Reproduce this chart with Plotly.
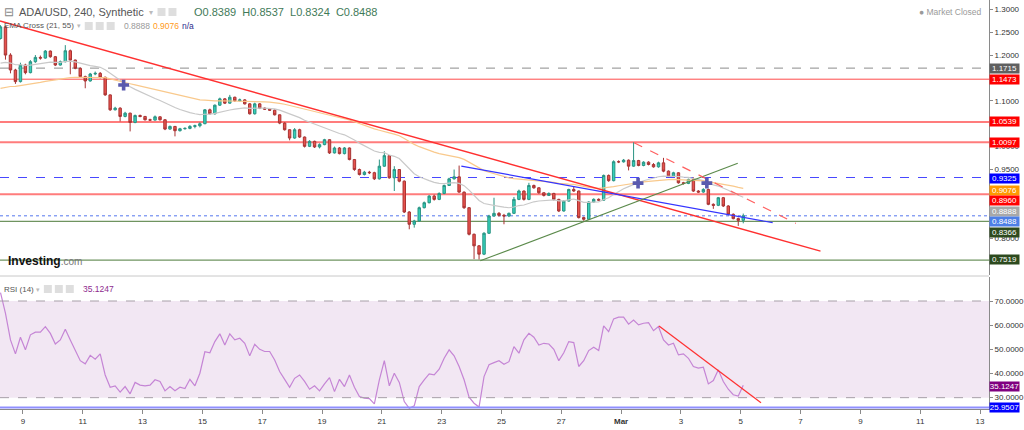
import pandas as pd
import plotly.graph_objects as go

# ---- data (ADA/USD, 4h candles) ----
first_open = 1.2362
closes = [
    1.2616, 1.2000, 1.1674, 1.1420, 1.1782, 1.1616, 1.1855, 1.1949, 1.1934, 1.2087,
    1.1964, 1.1782, 1.1855, 1.2094, 1.1891, 1.1710, 1.1529, 1.1434, 1.1587, 1.1601,
    1.1514, 1.1130, 1.0804, 1.0840, 1.0659, 1.0731, 1.0528, 1.0680, 1.0659, 1.0586,
    1.0579, 1.0651, 1.0586, 1.0383, 1.0441, 1.0347, 1.0390, 1.0398, 1.0441, 1.0456,
    1.0500, 1.0804, 1.0717, 1.0905, 1.1043, 1.0949, 1.1079, 1.1000, 1.1021, 1.0934,
    1.0717, 1.0934, 1.0840, 1.0818, 1.0796, 1.0695, 1.0514, 1.0369, 1.0187, 1.0369,
    1.0209, 1.0006, 1.0115, 0.9992, 1.0043, 1.0151, 0.9862, 0.9970, 0.9847, 0.9970,
    0.9717, 0.9499, 0.9390, 0.9441, 0.9430, 0.9296, 0.9572, 0.9803, 0.9318, 0.9499,
    0.9245, 0.8571, 0.8303, 0.8375, 0.8665, 0.8774, 0.8919, 0.8847, 0.8977, 0.9151,
    0.9296, 0.9340, 0.9006, 0.8665, 0.8085, 0.7832, 0.7650, 0.8107, 0.8484, 0.8542,
    0.8499, 0.8484, 0.8542, 0.8847, 0.9030, 0.8847, 0.9151, 0.9100, 0.8992, 0.8934,
    0.8977, 0.8847, 0.8593, 0.8810, 0.9064, 0.9030, 0.8449, 0.8413, 0.8790, 0.8848,
    0.8830, 0.9370, 0.9256, 0.9670, 0.9667, 0.9703, 0.9573, 0.9696, 0.9587, 0.9660,
    0.9609, 0.9558, 0.9645, 0.9464, 0.9355, 0.9428, 0.9210, 0.9196, 0.9283, 0.9029,
    0.9007, 0.9065, 0.8739, 0.8717, 0.8884, 0.8703, 0.8521, 0.8427, 0.8389, 0.8488,
]
highs = [
    1.2652, 1.2630, 1.2040, 1.1700, 1.1833, 1.1810, 1.1890, 1.2000, 1.1990, 1.2110,
    1.2100, 1.1980, 1.1880, 1.2217, 1.2120, 1.1900, 1.1730, 1.1550, 1.1610, 1.1640,
    1.1630, 1.1530, 1.1140, 1.0870, 1.0860, 1.0760, 1.0740, 1.0700, 1.0700, 1.0670,
    1.0610, 1.0680, 1.0660, 1.0600, 1.0460, 1.0450, 1.0410, 1.0420, 1.0470, 1.0480,
    1.0530, 1.0820, 1.0830, 1.0920, 1.1070, 1.1060, 1.1130, 1.1090, 1.1050, 1.1040,
    1.0950, 1.0960, 1.0950, 1.0860, 1.0840, 1.0810, 1.0700, 1.0530, 1.0380, 1.0405,
    1.0390, 1.0220, 1.0140, 1.0130, 1.0070, 1.0170, 1.0160, 1.0000, 0.9990, 0.9990,
    0.9980, 0.9730, 0.9520, 0.9470, 0.9470, 0.9450, 0.9717, 0.9898, 0.9810, 0.9572,
    0.9510, 0.9260, 0.8590, 0.8400, 0.8690, 0.8800, 0.8940, 0.8950, 0.9000, 0.9170,
    0.9320, 0.9499, 0.9586, 0.9020, 0.8680, 0.8100, 0.7850, 0.8130, 0.8510, 0.8883,
    0.8570, 0.8530, 0.8560, 0.8900, 0.9060, 0.9040, 0.9209, 0.9170, 0.9110, 0.9000,
    0.9000, 0.8990, 0.8860, 0.8830, 0.9080, 0.9137, 0.9040, 0.8470, 0.8810, 0.8870,
    0.8870, 0.9390, 0.9391, 0.9700, 0.9700, 0.9730, 0.9720, 1.0094, 0.9710, 0.9680,
    0.9680, 0.9640, 0.9670, 0.9754, 0.9480, 0.9450, 0.9440, 0.9230, 0.9300, 0.9330,
    0.9050, 0.9090, 0.9080, 0.8760, 0.8900, 0.8900, 0.8720, 0.8540, 0.8450, 0.8537,
]
lows = [
    1.2340, 1.1900, 1.1601, 1.1370, 1.1400, 1.1580, 1.1600, 1.1830, 1.1900, 1.1920,
    1.1940, 1.1760, 1.1770, 1.1840, 1.1580, 1.1690, 1.1500, 1.1275, 1.1420, 1.1560,
    1.1490, 1.1110, 1.0780, 1.0790, 1.0550, 1.0640, 1.0332, 1.0510, 1.0640, 1.0570,
    1.0560, 1.0570, 1.0570, 1.0360, 1.0370, 1.0224, 1.0330, 1.0370, 1.0380, 1.0400,
    1.0420, 1.0490, 1.0700, 1.0700, 1.0890, 1.0930, 1.0940, 1.0980, 1.0990, 1.0920,
    1.0700, 1.0700, 1.0820, 1.0800, 1.0780, 1.0680, 1.0490, 1.0350, 1.0137, 1.0170,
    1.0190, 0.9980, 0.9990, 0.9970, 0.9960, 1.0030, 0.9840, 0.9850, 0.9830, 0.9830,
    0.9700, 0.9470, 0.9370, 0.9370, 0.9400, 0.9270, 0.9280, 0.9560, 0.9300, 0.9030,
    0.9220, 0.8550, 0.8194, 0.8230, 0.8360, 0.8650, 0.8760, 0.8820, 0.8830, 0.8960,
    0.9140, 0.9280, 0.8990, 0.8640, 0.8060, 0.7542, 0.7535, 0.7630, 0.8090, 0.8470,
    0.8470, 0.8303, 0.8460, 0.8530, 0.8830, 0.8820, 0.8830, 0.9080, 0.8970, 0.8910,
    0.8920, 0.8820, 0.8570, 0.8580, 0.8800, 0.9010, 0.8430, 0.8380, 0.8400, 0.8770,
    0.8810, 0.8820, 0.9230, 0.9240, 0.9640, 0.9650, 0.9480, 0.9560, 0.9570, 0.9570,
    0.9590, 0.9540, 0.9540, 0.9440, 0.9330, 0.9340, 0.9190, 0.9170, 0.9180, 0.9010,
    0.8990, 0.8990, 0.8720, 0.8640, 0.8700, 0.8680, 0.8500, 0.8410, 0.8268, 0.8324,
]
rsi = [
    73.5, 64.9, 53.9, 48.1, 55.0, 49.8, 56.0, 57.1, 57.1, 59.4,
    56.6, 52.2, 53.9, 58.3, 53.9, 49.5, 45.3, 44.0, 47.5, 45.9,
    48.1, 39.4, 34.3, 34.9, 32.3, 34.6, 31.6, 36.3, 35.2, 34.9,
    35.2, 37.4, 36.7, 32.8, 34.6, 32.9, 34.3, 33.8, 37.6, 34.9,
    40.1, 49.0, 48.6, 53.2, 56.4, 51.8, 56.4, 53.9, 54.6, 52.5,
    47.3, 52.1, 50.0, 49.1, 49.1, 45.6, 40.8, 37.6, 34.3, 38.0,
    39.4, 36.7, 33.5, 34.9, 32.8, 35.7, 38.3, 32.5, 37.6, 34.6,
    39.4, 34.3, 30.5, 29.8, 29.6, 27.4, 37.4, 45.3, 34.9, 40.1,
    36.3, 28.4, 25.6, 26.6, 34.6, 37.4, 39.8, 39.4, 41.8, 46.3,
    49.8, 47.3, 42.9, 37.4, 30.2, 27.7, 26.1, 38.7, 43.6, 44.5,
    45.3, 43.8, 44.9, 51.1, 48.4, 53.9, 56.6, 55.0, 51.8, 52.5,
    52.2, 50.0, 45.3, 48.6, 53.2, 52.8, 42.9, 45.3, 49.5, 50.9,
    49.5, 59.7, 57.3, 62.6, 63.3, 63.3, 60.4, 62.1, 60.1, 60.8,
    61.0, 57.7, 59.4, 53.9, 51.8, 52.5, 47.7, 48.1, 46.3, 42.9,
    42.2, 42.6, 35.7, 37.1, 41.5, 36.7, 33.5, 31.2, 30.7, 35.1247,
]
ema_fast_seed, ema_slow_seed = 1.1746, 1.1224
ema_fast_last, ema_slow_last = 0.8888, 0.9076
rsi_level = 25.9507

levels = [1.1715, 1.1473, 1.0539, 1.0097, 0.9325, 0.8960, 0.8488, 0.8366, 0.7519]

trend_red_t = ['2021-02-08 05:36', '2021-03-07 16:00']
trend_red_p = [1.2744, 0.7717]
trend_blue_t = ['2021-02-23 15:46', '2021-03-06 01:36']
trend_blue_p = [0.9575, 0.8338]
trend_green_t = ['2021-02-24 07:00', '2021-03-04 21:36']
trend_green_p = [0.7505, 0.9634]
trend_dash_t = ['2021-03-01 10:24', '2021-03-06 20:14']
trend_dash_p = [1.0084, 0.8322]
rsi_trend_t = ['2021-03-02 06:24', '2021-03-05 16:15']
rsi_trend_v = [59.66, 27.9]
cross_t = ['2021-02-12 08:48', '2021-03-01 13:36', '2021-03-03 20:48']
cross_p = [1.1345, 0.9203, 0.9203]

tick_dates = ['2021-02-09', '2021-02-11', '2021-02-13', '2021-02-15', '2021-02-17',
              '2021-02-19', '2021-02-21', '2021-02-23', '2021-02-25', '2021-02-27',
              '2021-03-01', '2021-03-03', '2021-03-05', '2021-03-07', '2021-03-09',
              '2021-03-11', '2021-03-13']
tick_text = ['9', '11', '13', '15', '17', '19', '21', '23', '25', '27',
             '<b>Mar</b>', '3', '5', '7', '9', '11', '13']
# price ticks that are not hidden behind the price tags
price_ticks = [0.80, 0.95, 1.00, 1.10, 1.20, 1.25, 1.30]
rsi_ticks = [30, 40, 50, 60, 70]

opens = [first_open] + closes[:-1]
times = pd.date_range('2021-02-08 06:00', periods=len(closes), freq='4h')


def ema(values, span, seed):
    a = 2 / (span + 1)
    e = seed
    out = []
    for v in values:
        e = e + a * (v - e)
        out.append(e)
    return out


ema_fast = ema(closes, 21, ema_fast_seed)
ema_slow = ema(closes, 55, ema_slow_seed)

# pixel helpers (plot area is 992 x 409 px)
W, H = 992, 409


def px(x):
    return x / W


def py(y):
    return (H - y) / H


FONT = 'Liberation Sans, Arial, sans-serif'

fig = go.Figure()

fig.add_trace(go.Scatter(x=times, y=ema_fast, mode='lines',
                         line=dict(color='#c9c9c9', width=1.2), showlegend=False))
fig.add_trace(go.Scatter(x=times, y=ema_slow, mode='lines',
                         line=dict(color='#f9c98c', width=1.2), showlegend=False))

fig.add_trace(go.Candlestick(
    x=times, open=opens, high=highs, low=lows, close=closes,
    increasing=dict(line=dict(color='#2a9383', width=1), fillcolor='#33d1ba'),
    decreasing=dict(line=dict(color='#a83434', width=1), fillcolor='#e8524c'),
    whiskerwidth=0, showlegend=False))

# trend lines
for t, p, col, dash, w in [
    (trend_red_t, trend_red_p, '#ff3030', 'solid', 1.4),
    (trend_blue_t, trend_blue_p, '#3535ff', 'solid', 1.2),
    (trend_green_t, trend_green_p, '#5b8a4b', 'solid', 1.1),
    (trend_dash_t, trend_dash_p, '#ff5f5f', 'dash', 1.2),
]:
    fig.add_trace(go.Scatter(x=t, y=p, mode='lines', line=dict(color=col, width=w, dash=dash),
                             showlegend=False))

fig.add_trace(go.Scatter(x=cross_t, y=cross_p, mode='markers',
                         marker=dict(symbol='cross', size=9, color='#5a5aae'),
                         showlegend=False))

# RSI panel
fig.add_trace(go.Scatter(x=times, y=rsi, mode='lines', yaxis='y2',
                         line=dict(color='#c585d5', width=1.2), showlegend=False))
fig.add_trace(go.Scatter(x=rsi_trend_t, y=rsi_trend_v, mode='lines', yaxis='y2',
                         line=dict(color='#ff3030', width=1.2), showlegend=False))

shapes = []
level_styles = [
    ('#8c8c8c', 1, 'dash'),
    ('#ff4a4a', 1, 'solid'),
    ('rgba(255,80,80,0.75)', 2, 'solid'),
    ('rgba(255,80,80,0.75)', 2, 'solid'),
    ('#4848ff', 1.2, 'dash'),
    ('rgba(255,80,80,0.75)', 2, 'solid'),
    ('#5577ee', 1, 'dot'),
    ('#6f9460', 1.2, 'solid'),
    ('#6f9460', 1.2, 'solid'),
]
for lv, (col, w, dash) in zip(levels, level_styles):
    shapes.append(dict(type='line', xref='x domain', x0=0, x1=1, yref='y', y0=lv, y1=lv,
                       line=dict(color=col, width=w, dash=dash), layer='below'))

shapes += [
    dict(type='rect', xref='x domain', x0=0, x1=1, yref='y2', y0=30, y1=70,
         fillcolor='rgba(150,60,160,0.12)', line=dict(width=0), layer='below'),
    dict(type='line', xref='x domain', x0=0, x1=1, yref='y2', y0=70, y1=70,
         line=dict(color='#a79fa8', width=1, dash='dash')),
    dict(type='line', xref='x domain', x0=0, x1=1, yref='y2', y0=30, y1=30,
         line=dict(color='#a79fa8', width=1, dash='dash')),
    dict(type='line', xref='x domain', x0=0, x1=1, yref='y2', y0=rsi_level, y1=rsi_level,
         line=dict(color='#8f8fff', width=2)),
    dict(type='line', xref='paper', x0=0, x1=1, yref='paper', y0=py(276), y1=py(276),
         line=dict(color='#c8c8c8', width=1)),
]
# little toolbar squares in the legends
for x0, y0 in [(158, 8), (169, 8), (85, 22), (96, 22), (107, 22), (44, 285), (55, 285), (66, 285)]:
    shapes.append(dict(type='rect', xref='paper', yref='paper', x0=px(x0), x1=px(x0 + 8),
                       y0=py(y0 + 8), y1=py(y0), fillcolor='#dedede', line=dict(width=0)))

ann = []


def label(x, y, text, size, color, anchor='left'):
    ann.append(dict(xref='paper', yref='paper', x=px(x), y=py(y), text=text, showarrow=False,
                    xanchor=anchor, yanchor='middle', font=dict(size=size, color=color)))


label(2, 12, '⊟', 12, '#888888')
label(17, 12, 'ADA/USD, 240, Synthetic', 11, '#555555')
label(147, 12, '▾', 8, '#bbbbbb')
label(193, 12, f'O{opens[-1]:.4f}  H{highs[-1]:.4f}  L{lows[-1]:.4f}  C{closes[-1]:.4f}', 11, '#3f7a58')
label(2, 26, 'EMA Cross (21, 55)', 8, '#555555')
label(75, 26, '▾', 7, '#bbbbbb')
label(122, 26, f'{ema_fast_last:.4f}', 8.5, '#9a9a9a')
label(151, 26, f'{ema_slow_last:.4f}', 8.5, '#ff9a1a')
label(181, 26, 'n/a', 8.5, '#2c2c8c')
label(2, 289, 'RSI (14)', 8, '#555555')
label(34, 289, '▾', 7, '#bbbbbb')
label(81, 289, f'{rsi[-1]:.4f}', 8.5, '#8e2c8e')
label(987, 12, '● Market Closed', 8.5, '#9a9a9a', anchor='right')
label(6, 261, '<b>Investing</b><span style="font-size:10px;color:#777">.com</span>', 12, '#111111')

# price tags on the right axis (y positions as drawn, stacked where they collide)
tag_specs = [
    ('1.1715', 1.1715, '#606060', 'y'),
    ('1.1473', 1.1473, '#ff0000', 'y'),
    ('1.0539', 1.0539, '#ff0000', 'y'),
    ('1.0097', 1.0097, '#ff0000', 'y'),
    ('0.9325', 0.9313, '#0000ff', 'y'),
    (f'{ema_slow_last:.4f}', 0.9039, '#ff9900', 'y'),
    ('0.8960', 0.8821, '#ff0000', 'y'),
    (f'{ema_fast_last:.4f}', 0.8591, '#a8a8a8', 'y'),
    (f'{closes[-1]:.4f}', 0.8373, '#4d7fe6', 'y'),
    ('0.8366', 0.8117, '#2d4a1e', 'y'),
    ('0.7519', 0.7542, '#2d4a1e', 'y'),
    (f'{rsi[-1]:.4f}', 34.6, '#800080', 'y2'),
    (f'{rsi_level:.4f}', rsi_level, '#0000ff', 'y2'),
]
for txt, yv, col, yr in tag_specs:
    ann.append(dict(xref='paper', x=1, xanchor='left', yref=yr, y=yv, yanchor='middle',
                    text=txt, showarrow=False, bgcolor=col, borderpad=0, width=29, height=9,
                    font=dict(size=8, color='white')))

fig.update_layout(
    width=1024, height=430,
    margin=dict(l=0, r=32, t=0, b=21),
    paper_bgcolor='white', plot_bgcolor='white',
    font=dict(family=FONT, size=8, color='#333333'),
    showlegend=False,
    xaxis=dict(domain=[0, 1], anchor='y2', type='date',
               range=['2021-02-08 05:36', '2021-03-13 07:12'],
               tickvals=tick_dates, ticktext=tick_text, tickfont=dict(size=8, color='#333333'),
               showgrid=False, zeroline=False, showline=True, linecolor='#8a8a8a',
               ticks='outside', ticklen=4, tickcolor='#8a8a8a',
               rangeslider=dict(visible=False)),
    yaxis=dict(domain=[py(275), 1], anchor='x', side='right', range=[0.7195, 1.3203],
               tickvals=price_ticks, tickformat='.4f', showgrid=False, zeroline=False,
               showline=True, linecolor='#8a8a8a', ticks='outside', ticklen=3,
               tickcolor='#8a8a8a', tickfont=dict(size=8, color='#333333')),
    yaxis2=dict(domain=[0, py(277)], anchor='x', side='right', range=[25.31, 79.93],
                tickvals=rsi_ticks, tickformat='.4f', showgrid=False, zeroline=False,
                showline=True, linecolor='#8a8a8a', ticks='outside', ticklen=3,
                tickcolor='#8a8a8a', tickfont=dict(size=8, color='#333333')),
    shapes=shapes,
    annotations=ann,
)

# the page's default body margin would shift the figure by 8px
fig.write_html('out.html', config={'displayModeBar': False},
               post_script="document.body.style.margin='0px';")
